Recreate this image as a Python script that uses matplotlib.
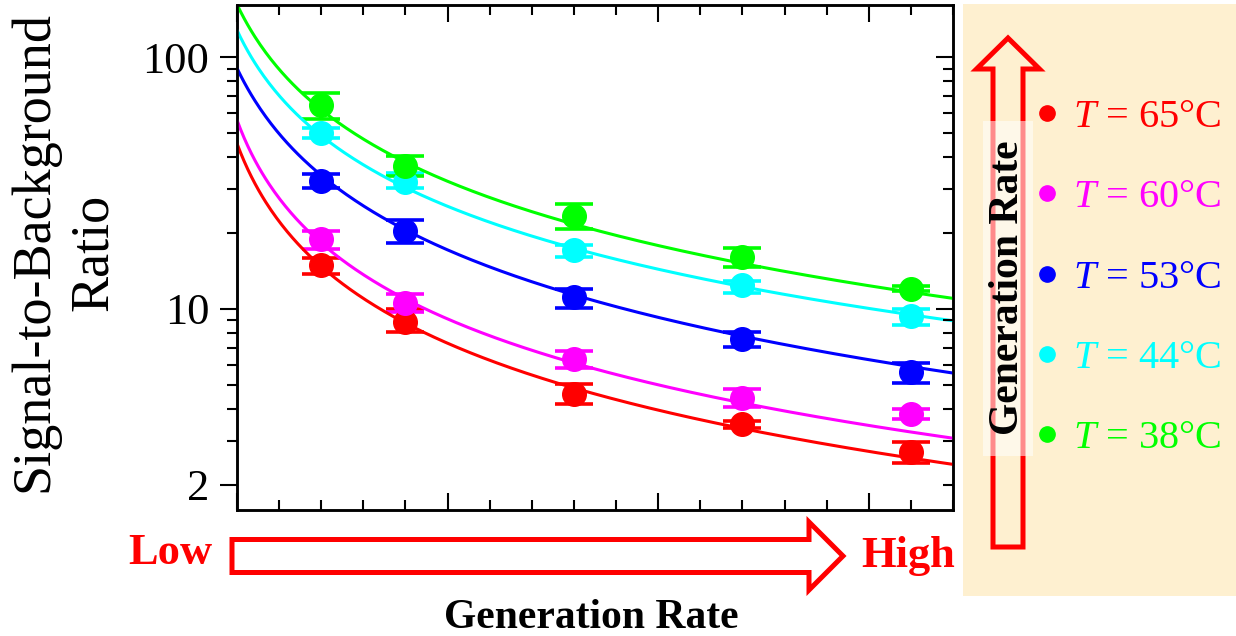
import numpy as np
import matplotlib
matplotlib.use("Agg")
import matplotlib.pyplot as plt
from matplotlib.ticker import LogLocator, FixedLocator, NullFormatter, MultipleLocator, FixedFormatter
from matplotlib.patches import FancyArrow, Rectangle
from matplotlib.lines import Line2D
from matplotlib.transforms import IdentityTransform

plt.rcParams['font.family'] = ['Liberation Serif', 'DejaVu Serif']
plt.rcParams['mathtext.fontset'] = 'custom'
plt.rcParams['mathtext.rm'] = 'Liberation Serif'
plt.rcParams['mathtext.it'] = 'Liberation Serif:italic'

# ---------------- data ----------------
gen_rate = [2, 4, 8, 12, 16]
temps = ['65', '60', '53', '44', '38']
colors = ['#FF0000', '#FF00FF', '#0000FF', '#00FFFF', '#00FF00']

sbr_65 = [14.9, 8.9, 4.6, 3.5, 2.7]
sbr_60 = [18.9, 10.6, 6.32, 4.42, 3.82]
sbr_53 = [32.2, 20.4, 11.1, 7.58, 5.64]
sbr_44 = [49.8, 32.0, 17.1, 12.4, 9.33]
sbr_38 = [64.3, 37.1, 23.4, 16.0, 12.04]

hi_65 = [15.9, 9.97, 5.04, 3.6, 2.97]
hi_60 = [20.4, 11.5, 6.81, 4.80, 4.0]
hi_53 = [34.3, 22.5, 12.0, 8.08, 6.12]
hi_44 = [52.4, 34.5, 17.9, 12.9, 9.97]
hi_38 = [72.1, 40.4, 26.2, 17.5, 12.3]

lo_65 = [13.7, 8.06, 4.19, 3.36, 2.44]
lo_60 = [17.3, 9.76, 5.82, 4.07, 3.65]
lo_53 = [30.3, 18.2, 10.06, 7.08, 5.07]
lo_44 = [47.6, 30.1, 16.0, 11.6, 8.64]
lo_38 = [56.8, 33.8, 20.7, 14.7, 11.8]

# fit model  SBR = a / (x + b)**p
fit_a = [44.0, 52.9, 120.2, 149.0, 199.0]
fit_b = [0.97, 0.94, 1.31, 1.17, 1.23]
fit_p = [1.005, 0.9865, 1.057, 0.969, 0.997]

y_ticks = [2, 10, 100]
y_ticklabels = ['2', '10', '100']

series = [sbr_65, sbr_60, sbr_53, sbr_44, sbr_38]
highs = [hi_65, hi_60, hi_53, hi_44, hi_38]
lows = [lo_65, lo_60, lo_53, lo_44, lo_38]

# ---------------- figure ----------------
W, H = 1236, 636
fig = plt.figure(figsize=(W / 100, H / 100), dpi=100)

def fx(px):
    return px / W

def fy(py):
    return 1 - py / H

# right beige panel
fig.add_artist(Rectangle((963, H - 596), W - 963, 592, transform=IdentityTransform(),
                         facecolor='#FEF0D0', edgecolor='none', zorder=0))

ax = fig.add_axes([fx(237), fy(510), fx(953) - fx(237), fy(5) - fy(510)])
ax.set_yscale('log')
XMAX = 17.0
ax.set_xlim(0, XMAX)
ax.set_ylim(1.59, 161)

xs = np.linspace(0, XMAX, 400)
for i in range(5):
    v = np.array(series[i])
    yerr = [v - np.array(lows[i]), np.array(highs[i]) - v]
    ax.errorbar(gen_rate, v, yerr=yerr, fmt='o', color=colors[i], ms=17,
                capsize=14, capthick=2.6, elinewidth=2.6, zorder=3)
    ax.plot(xs, fit_a[i] / (xs + fit_b[i]) ** fit_p[i], color=colors[i], lw=2.2, zorder=4)

for s in ax.spines.values():
    s.set_linewidth(1.8)

ax.xaxis.set_major_locator(MultipleLocator(5))
ax.xaxis.set_minor_locator(MultipleLocator(1))
ax.tick_params(axis='x', which='both', direction='in', top=True, bottom=True,
               labelbottom=False, width=1.5)
ax.tick_params(axis='x', which='major', length=12)
ax.tick_params(axis='x', which='minor', length=7)

ax.yaxis.set_major_locator(FixedLocator(y_ticks))
ax.yaxis.set_major_formatter(FixedFormatter(y_ticklabels))
ax.yaxis.set_minor_locator(LogLocator(base=10, subs=np.arange(2, 10), numticks=20))
ax.yaxis.set_minor_formatter(NullFormatter())
ax.tick_params(axis='y', which='both', direction='out', left=True, right=False,
               width=1.5, labelsize=32, pad=8)
ax.tick_params(axis='y', which='major', length=12)
ax.tick_params(axis='y', which='minor', length=7)

tw = ax.twinx()
tw.set_yscale('log')
tw.set_ylim(ax.get_ylim())
tw.yaxis.set_major_locator(FixedLocator([10, 100]))
tw.yaxis.set_minor_locator(LogLocator(base=10, subs=np.arange(2, 10), numticks=20))
tw.yaxis.set_minor_formatter(NullFormatter())
tw.tick_params(axis='y', which='both', direction='in', labelright=False, width=1.5)
tw.tick_params(axis='y', which='major', length=12)
tw.tick_params(axis='y', which='minor', length=7)
for s in tw.spines.values():
    s.set_linewidth(1.8)

# y label
fig.text(fx(64), fy(252), 'Signal-to-Background\nRatio', rotation=90, ha='center',
         va='center', multialignment='center', fontsize=39, linespacing=1.25)

# x label
fig.text(fx(591), fy(618), 'Generation Rate', ha='center', va='center',
         fontsize=30, fontweight='bold')

# Low / High arrow
fig.add_artist(FancyArrow(232, H - 556, 843 - 232, 0, width=33, head_width=68,
                          head_length=34, length_includes_head=True, fill=False,
                          edgecolor='#FF0000', lw=3.6, transform=IdentityTransform()))
fig.text(fx(170), fy(553), 'Low', ha='center', va='center', fontsize=32,
         fontweight='bold', color='#FF0000')
fig.text(fx(908), fy(556), 'High', ha='center', va='center', fontsize=32,
         fontweight='bold', color='#FF0000')

# vertical arrow in panel
fig.add_artist(FancyArrow(1008, H - 547, 0, 547 - 38, width=30, head_width=63,
                          head_length=31, length_includes_head=True, fill=False,
                          edgecolor='#FF0000', lw=3.6, transform=IdentityTransform()))
fig.add_artist(Rectangle((983, H - 456), 50, 335, transform=IdentityTransform(),
                         facecolor='white', alpha=0.55, edgecolor='none', zorder=3))
fig.text(fx(1008), fy(288), 'Generation Rate', rotation=90, ha='center', va='center',
         fontsize=30, fontweight='bold', zorder=4)

# legend
handles = [Line2D([], [], ls='none', marker='o', ms=11, color=c) for c in colors]
labels = [r'$T$ = ' + t + '°C' for t in temps]
fig.legend(handles, labels, loc='center left', bbox_to_anchor=(fx(1035), fy(278)),
           frameon=False, fontsize=29, labelcolor=colors, handlelength=0.6,
           handletextpad=0.35, labelspacing=1.07, borderpad=0, borderaxespad=0)

fig.savefig('out.png', dpi=100)
